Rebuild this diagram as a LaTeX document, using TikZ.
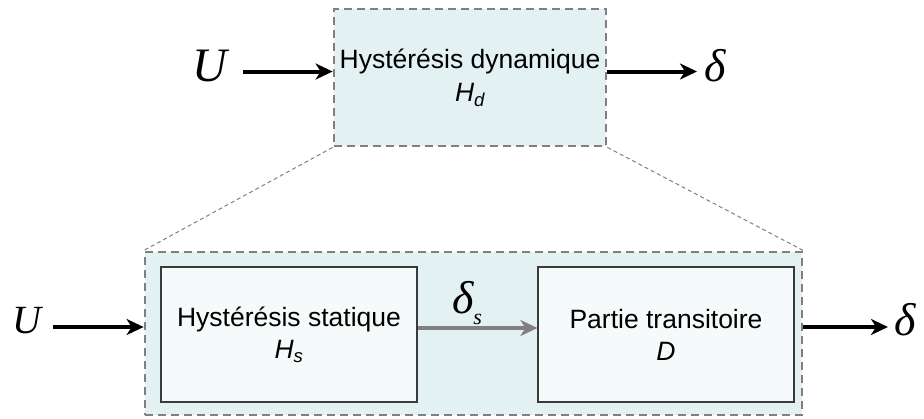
\documentclass[tikz,border=0pt]{standalone}
\usepackage{fontspec}
\setmainfont{Liberation Sans}
\newfontfamily\serifit{Liberation Serif}
\usetikzlibrary{arrows.meta}
\definecolor{dashgray}{HTML}{808080}
\definecolor{outerfill}{HTML}{E3F1F3}
\definecolor{innerfill}{HTML}{F5FAFB}
\definecolor{innerline}{HTML}{3A3A3A}
\definecolor{arrgray}{HTML}{808080}
\tikzset{
  dashbox/.style={draw=dashgray, fill=outerfill, line width=2.8pt,
    dash pattern=on 8pt off 5pt, inner sep=0pt, align=center,
    font=\fontsize{26.5}{33}\selectfont},
  blockbox/.style={draw=innerline, fill=innerfill, line width=1.2pt,
    minimum width=256pt, minimum height=135pt, inner sep=0pt,
    align=center, font=\fontsize{26.5}{32}\selectfont},
  sym/.style={inner sep=0pt, anchor=base},
  arr/.style={line width=4pt, -{Stealth[length=17pt,width=16pt,inset=5pt]}},
  grayarr/.style={draw=arrgray, line width=3.5pt,
    -{Stealth[length=17pt,width=16pt,inset=5pt]}},
  dotline/.style={draw=dashgray, line width=1pt, dash pattern=on 4pt off 3pt}
}
\begin{document}
\begin{tikzpicture}[x=1pt,y=-1pt]
\useasboundingbox (0,0) rectangle (924,418);
% top block
\node[dashbox, minimum width=272pt, minimum height=137pt] (top) at (470,77.5)
  {Hystérésis dynamique\\\textit{H\textsubscript{d}}};
% outer block
\node[dashbox, minimum width=657pt, minimum height=163pt] (outer) at (473.5,333.5) {};
% zoom lines
\draw[dotline] (top.south west) -- (outer.north west);
\draw[dotline] (top.south east) -- (outer.north east);
% inner blocks
\node[blockbox] (hs) at (289,334.5) {Hystérésis statique\\\textit{H\textsubscript{s}}};
\node[blockbox] (pt) at (666,334.5) {Partie transitoire\\\textit{D}};
% symbols
\node[sym, font=\fontsize{48}{48}\selectfont\serifit\itshape] (U1) at (210,81) {U};
\node[sym, font=\fontsize{46}{46}\selectfont\serifit\itshape] (d1) at (715,81) {δ};
\node[sym, font=\fontsize{40}{40}\selectfont\serifit\itshape] (U2) at (27,333) {U};
\node[sym, font=\fontsize{46}{46}\selectfont\serifit\itshape] (d2) at (905,335) {δ};
\node[sym, font=\fontsize{46}{46}\selectfont\serifit\itshape] (ds) at (467,313)
  {δ\raisebox{-11pt}{\fontsize{22}{22}\selectfont s}};
% arrows
\coordinate (a1) at (243,71.5);
\coordinate (a1e) at (697,71.5);
\coordinate (a2) at (53,327);
\coordinate (a2e) at (888,327);
\draw[arr] (a1) -- (a1 -| top.west);
\draw[arr] (top.east |- a1) -- (a1e);
\draw[arr] (a2) -- (a2 -| outer.west);
\draw[arr] (outer.east |- a2) -- (a2e);
\draw[grayarr] (hs.east |- 0,328) -- (pt.west |- 0,328);
\end{tikzpicture}
\end{document}
